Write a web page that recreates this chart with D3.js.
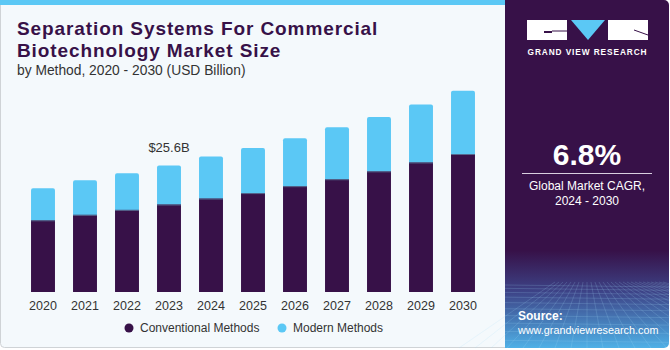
<!DOCTYPE html>
<html lang="en">
<head>
  <meta charset="utf-8" />
  <style>
    body { margin: 0; background: #fff; }
    svg text { font-family: "Liberation Sans", Arial, sans-serif; }
  </style>
</head>
<body>
<div id="container"></div>
<script src="https://cdn.jsdelivr.net/npm/d3@7"></script>
<script>

const years = ['2020', '2021', '2022', '2023', '2024', '2025', '2026', '2027', '2028', '2029', '2030'];
const conventional = [14.5, 15.6, 16.6, 17.7, 18.9, 20.0, 21.4, 22.8, 24.4, 26.2, 27.9];
const modern = [6.5, 7.0, 7.4, 7.9, 8.5, 9.1, 9.7, 10.5, 11.0, 11.7, 12.8];
const seriesNames = ['Conventional Methods', 'Modern Methods'];
const colors = ['#371148', '#5bc8f5'];
const calloutYear = '2023';
const calloutText = '$25.6B';

const W = 670, H = 350;

const svg = d3.select('#container')
  .append('svg')
  .attr('width', W)
  .attr('height', H);

const defs = svg.append('defs');
const grad = defs.append('linearGradient')
  .attr('id', 'panelGrad')
  .attr('x1', 0).attr('y1', 0).attr('x2', 0).attr('y2', 1);
grad.append('stop').attr('offset', '0%').attr('stop-color', '#371148');
grad.append('stop').attr('offset', '72%').attr('stop-color', '#371148');
grad.append('stop').attr('offset', '84%').attr('stop-color', '#3d4488');
grad.append('stop').attr('offset', '100%').attr('stop-color', '#4fb0e6');

// left panel
svg.append('rect')
  .attr('x', 0.5).attr('y', 0.5)
  .attr('width', 512).attr('height', 347)
  .attr('rx', 4)
  .attr('fill', '#f4f9fc')
  .attr('stroke', '#cfd3d6');
svg.append('rect')
  .attr('x', 0).attr('y', 0)
  .attr('width', 506).attr('height', 5)
  .attr('fill', '#5bc8f5');

// right panel
svg.append('rect')
  .attr('x', 505).attr('y', 0)
  .attr('width', 164).attr('height', 348)
  .attr('rx', 5)
  .attr('fill', 'url(#panelGrad)');
svg.append('rect')
  .attr('x', 505).attr('y', 0)
  .attr('width', 20).attr('height', 348)
  .attr('fill', 'url(#panelGrad)');

// faint grid lines at bottom of the panel
const gridG = svg.append('g').attr('stroke', '#a8dcf8').attr('stroke-opacity', 0.3).attr('stroke-width', 0.6);
d3.range(0, 14).forEach(i => {
  const yy = 285 + i * i * 0.35 + i * 3;
  if (yy < 348) gridG.append('line').attr('x1', 505).attr('x2', 669).attr('y1', yy).attr('y2', yy + 2);
});
d3.range(-8, 20).forEach(i => {
  const x0 = 587 + i * 10;
  gridG.append('line').attr('x1', 587 + i * 4).attr('y1', 282).attr('x2', x0 + (x0 - 587) * 0.6).attr('y2', 348);
});

// logo
const logo = svg.append('g');
logo.append('rect').attr('x', 527).attr('y', 20).attr('width', 40).attr('height', 20).attr('fill', '#fff');
logo.append('path').attr('d', 'M544,31 L552,31 L552,33 L544,33 Z').attr('fill', '#371148');
logo.append('path').attr('d', 'M552,31 L567,31').attr('stroke', '#371148');
logo.append('path').attr('d', 'M571,20 L605,20 L588,40 Z').attr('fill', '#5bc8f5');
logo.append('rect').attr('x', 608).attr('y', 20).attr('width', 40).attr('height', 20).attr('fill', '#fff');
logo.append('path').attr('d', 'M634,30 L648,35').attr('stroke', '#371148').attr('stroke-width', 1);
logo.append('text')
  .attr('x', 587.5).attr('y', 55)
  .attr('text-anchor', 'middle')
  .attr('fill', '#fff')
  .attr('font-size', 8.3)
  .attr('font-weight', 'bold')
  .attr('letter-spacing', 0.9)
  .text('GRAND VIEW RESEARCH');

// CAGR block
svg.append('text')
  .attr('x', 587).attr('y', 165)
  .attr('text-anchor', 'middle')
  .attr('fill', '#fff')
  .attr('font-size', 30)
  .attr('font-weight', 'bold')
  .text('6.8%');
svg.append('line')
  .attr('x1', 522).attr('x2', 652)
  .attr('y1', 173.5).attr('y2', 173.5)
  .attr('stroke', '#d9cfe0').attr('stroke-width', 1);
svg.append('text')
  .attr('x', 587).attr('y', 190)
  .attr('text-anchor', 'middle')
  .attr('fill', '#fff')
  .attr('font-size', 12)
  .text('Global Market CAGR,');
svg.append('text')
  .attr('x', 587).attr('y', 205)
  .attr('text-anchor', 'middle')
  .attr('fill', '#fff')
  .attr('font-size', 12)
  .text('2024 - 2030');

svg.append('text')
  .attr('x', 518).attr('y', 320)
  .attr('fill', '#fff')
  .attr('font-size', 12)
  .attr('font-weight', 'bold')
  .text('Source:');
svg.append('text')
  .attr('x', 518).attr('y', 334)
  .attr('fill', '#fff')
  .attr('font-size', 10.8)
  .text('www.grandviewresearch.com');

// titles
svg.append('text')
  .attr('x', 17).attr('y', 35)
  .attr('fill', '#371148')
  .attr('font-size', 19)
  .attr('font-weight', 'bold')
  .attr('letter-spacing', 0.9)
  .text('Separation Systems For Commercial');
svg.append('text')
  .attr('x', 17).attr('y', 57)
  .attr('fill', '#371148')
  .attr('font-size', 19)
  .attr('font-weight', 'bold')
  .attr('letter-spacing', 0.9)
  .text('Biotechnology Market Size');
svg.append('text')
  .attr('x', 17).attr('y', 75)
  .attr('fill', '#333')
  .attr('font-size', 13.8)
  .text('by Method, 2020 - 2030 (USD Billion)');

// chart
const data = years.map((yr, i) => ({ year: yr, conventional: conventional[i], modern: modern[i] }));
const stack = d3.stack().keys(['conventional', 'modern'])(data);

const x = d3.scaleBand()
  .domain(years)
  .range([22, 484])
  .paddingInner(0.43)
  .paddingOuter(0.215);

const y = d3.scaleLinear()
  .domain([0, 40.7])
  .range([292, 90.7]);

const chart = svg.append('g');

// modern on top (drawn first, extended down so only top corners show rounded)
chart.append('g')
  .selectAll('rect')
  .data(stack[1])
  .join('rect')
  .attr('x', d => x(d.data.year))
  .attr('y', d => y(d[1]))
  .attr('width', x.bandwidth())
  .attr('height', d => y(d[0]) - y(d[1]) + 4)
  .attr('rx', 2)
  .attr('fill', colors[1]);

chart.append('g')
  .selectAll('rect')
  .data(stack[0])
  .join('rect')
  .attr('x', d => x(d.data.year))
  .attr('y', d => y(d[1]))
  .attr('width', x.bandwidth())
  .attr('height', d => y(d[0]) - y(d[1]))
  .attr('fill', colors[0]);

// thin divider between segments
chart.append('g')
  .selectAll('line')
  .data(stack[0])
  .join('line')
  .attr('x1', d => x(d.data.year))
  .attr('x2', d => x(d.data.year) + x.bandwidth())
  .attr('y1', d => y(d[1]) + 0.5)
  .attr('y2', d => y(d[1]) + 0.5)
  .attr('stroke', '#56698f')
  .attr('stroke-width', 1);

const xAxis = chart.append('g')
  .attr('transform', `translate(0, 292)`)
  .call(d3.axisBottom(x).tickSize(0).tickPadding(9));
xAxis.select('.domain').remove();
xAxis.selectAll('text')
  .attr('font-family', '"Liberation Sans", Arial, sans-serif')
  .attr('font-size', 12.5)
  .attr('fill', '#333');

const ci = years.indexOf(calloutYear);
chart.append('text')
  .attr('x', x(calloutYear) + x.bandwidth() / 2)
  .attr('y', y(conventional[ci] + modern[ci]) - 13)
  .attr('text-anchor', 'middle')
  .attr('fill', '#333')
  .attr('font-size', 13)
  .text(calloutText);

// legend
const legendX = [129, 282];
const legend = svg.append('g');
seriesNames.forEach((name, i) => {
  legend.append('circle')
    .attr('cx', legendX[i]).attr('cy', 328)
    .attr('r', 4.5)
    .attr('fill', colors[i]);
  legend.append('text')
    .attr('x', legendX[i] + 11).attr('y', 332)
    .attr('fill', '#333')
    .attr('font-size', 12)
    .text(name);
});

</script>
</body>
</html>
